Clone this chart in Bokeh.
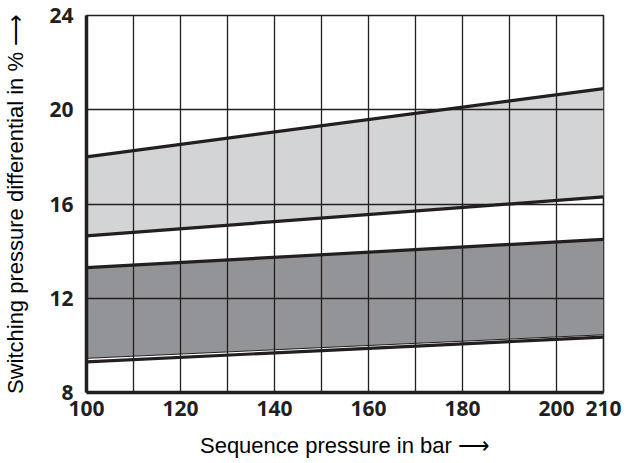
from bokeh.plotting import figure
from bokeh.models import FixedTicker, Range1d
from bokeh.embed import file_html
from bokeh.resources import INLINE

# data
pressure = [100, 210]
light_upper = [18.0, 20.9]
light_lower = [14.65, 16.3]
dark_upper = [13.3, 14.5]
dark_lower = [9.3, 10.35]
dark_fill_lower = [9.45, 10.45]
x_ticks = [100, 120, 140, 160, 180, 200, 210]
x_grid = [110, 120, 130, 140, 150, 160, 170, 180, 190, 200]
y_ticks = [8, 12, 16, 20, 24]
y_grid = [12, 16, 20]

LINE = "#231f20"

p = figure(width=622, height=461, output_backend="svg", toolbar_location=None,
           x_range=Range1d(100, 210), y_range=Range1d(8, 24),
           min_border_left=82, min_border_right=19, min_border_top=15, min_border_bottom=69)

p.varea(x=pressure, y1=light_lower, y2=light_upper, fill_color="#d3d4d6")
p.varea(x=pressure, y1=dark_fill_lower, y2=dark_upper, fill_color="#939497")
p.line(pressure, dark_fill_lower, line_color=LINE, line_width=1)

for ys in (light_upper, light_lower, dark_upper, dark_lower):
    p.line(pressure, ys, line_color=LINE, line_width=3.2)

p.xaxis.ticker = FixedTicker(ticks=x_ticks)
p.yaxis.ticker = FixedTicker(ticks=y_ticks)
p.xgrid.ticker = FixedTicker(ticks=x_grid)
p.ygrid.ticker = FixedTicker(ticks=y_grid)
p.grid.grid_line_color = LINE
p.grid.grid_line_width = 1.3
p.grid.grid_line_alpha = 1.0
p.grid.level = "overlay"

p.outline_line_color = LINE
p.outline_line_width = 1.6
p.outline_line_alpha = 1.0

for ax in (p.xaxis, p.yaxis):
    ax.axis_line_color = LINE
    ax.axis_line_width = 3.5
    ax.major_tick_line_color = None
    ax.minor_tick_line_color = None
    ax.major_label_text_font = "Open Sans"
    ax.major_label_text_font_style = "bold"
    ax.major_label_text_font_size = "21px"
    ax.major_label_text_color = LINE
    ax.axis_label_text_font = "Liberation Sans"
    ax.axis_label_text_font_style = "normal"
    ax.axis_label_text_font_size = "22px"
    ax.axis_label_text_color = "#000000"

p.xaxis.axis_label = "Sequence pressure in bar \u27f6"
p.yaxis.axis_label = "Switching pressure differential in % \u27f6"
p.xaxis.major_label_standoff = 2
p.yaxis.major_label_standoff = 7
p.xaxis.axis_label_standoff = 14
p.yaxis.axis_label_standoff = 18

open("out.html", "w").write(file_html(p, INLINE))
